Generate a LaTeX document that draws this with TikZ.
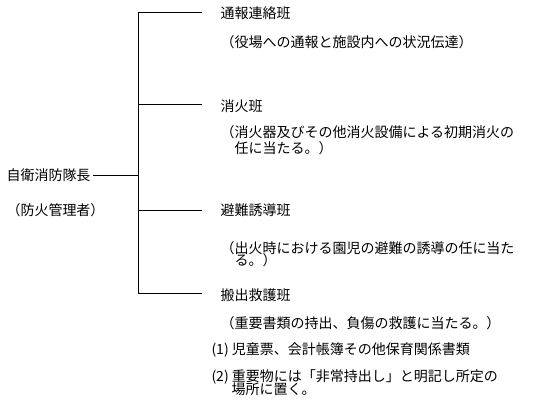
\documentclass[tikz,border=0pt]{standalone}
\usepackage{fontspec}
\newfontfamily\cjk{Noto Sans CJK JP}

\begin{document}
\begin{tikzpicture}[x=0.75pt,y=-0.75pt,font=\cjk\fontsize{10.5pt}{12pt}\selectfont,
  line width=0.75pt,
  lbl/.style={anchor=west,inner sep=0pt}]
\useasboundingbox (0,0) rectangle (547,412);
% branch joints on the trunk
\foreach \y/\nm in {12/tsuho,104/shoka,210/hinan,293/hanshutsu}{
  \coordinate (\nm-j) at (138,\y);
  \coordinate (\nm-e) at (202,\y);
}
% trunk with first and last branch
\draw (tsuho-e) -- (tsuho-j) -- (hanshutsu-j) -- (hanshutsu-e);
\draw (shoka-j) -- (shoka-e);
\draw (hinan-j) -- (hinan-e);
% head of the brigade
\node[lbl] (chief) at (6,175) {自衛消防隊長};
\node[lbl] (chiefsub) at (6,210) {（防火管理者）};
\coordinate (chief-j) at (138,175);
\draw[shorten <=1.5pt] (chief.east) -- (chief-j);
% teams
\node[lbl] (tsuho) at (220,13) {通報連絡班};
\node[lbl] (tsuho1) at (220,42) {（役場への通報と施設内への状況伝達）};
\node[lbl] (shoka) at (220,106) {消火班};
\node[lbl] (shoka1) at (220,132) {（消火器及びその他消火設備による初期消火の};
\node[lbl] (shoka2) at (234,148) {任に当たる。）};
\node[lbl] (hinan) at (220,210) {避難誘導班};
\node[lbl] (hinan1) at (220,248) {（出火時における園児の避難の誘導の任に当た};
\node[lbl] (hinan2) at (234,260) {る。）};
\node[lbl] (hanshutsu) at (220,295) {搬出救護班};
\node[lbl] (hanshutsu1) at (220,323) {（重要書類の持出、負傷の救護に当たる。）};
\node[lbl] (item1) at (211,350) {(1) 児童票、会計帳簿その他保育関係書類};
\node[lbl] (item2) at (211,377) {(2) 重要物には「非常持出し」と明記し所定の};
\node[lbl] (item2b) at (231,389) {場所に置く。};
\end{tikzpicture}
\end{document}
